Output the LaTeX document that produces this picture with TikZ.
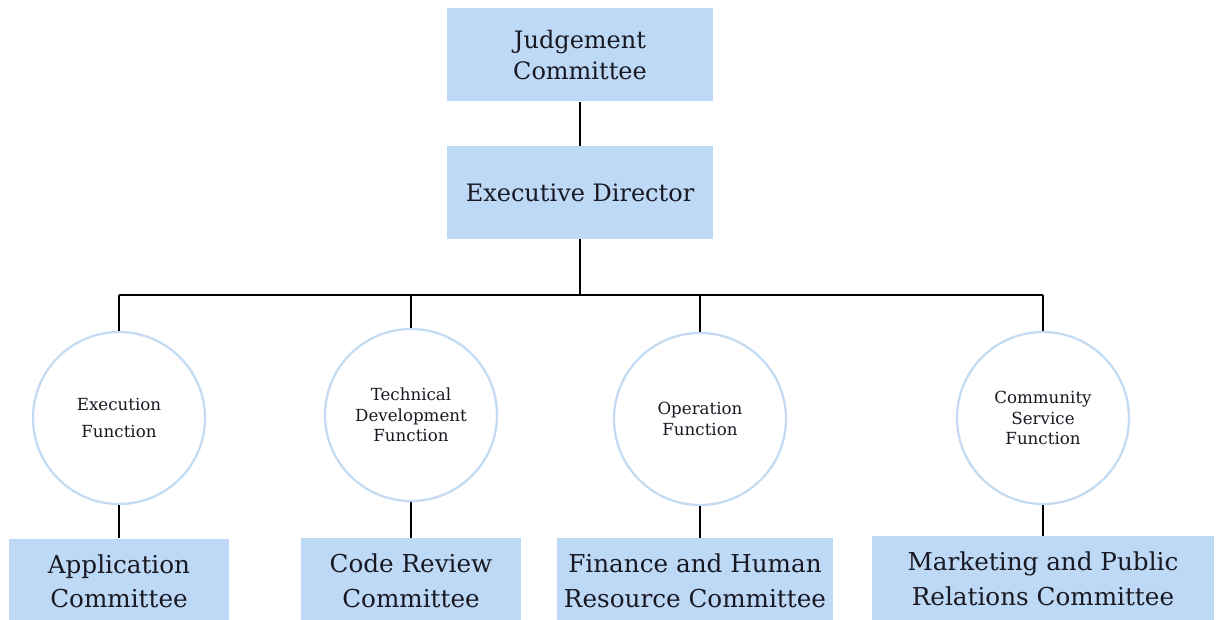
\documentclass[tikz,border=0pt]{standalone}
\usepackage{fontspec}
\setmainfont{DejaVu Serif}
\usepackage{xcolor}
\usetikzlibrary{positioning}

\definecolor{boxblue}{RGB}{189,217,245}
\definecolor{ringblue}{RGB}{196,219,241}
\definecolor{inkdark}{RGB}{25,25,35}

\begin{document}
\begin{tikzpicture}[
    x=0.75pt, y=-0.75pt,
    node distance=33pt,
    office/.style={rectangle, fill=boxblue, draw=none, minimum height=69.75pt, align=center, text=inkdark, font=\fontsize{18}{23.5}\selectfont},
    committee/.style={rectangle, fill=boxblue, draw=none, minimum height=64pt, align=center, text=inkdark, font=\fontsize{18.5}{26}\selectfont},
    branch/.style={circle, draw=ringblue, line width=1.7pt, fill=white, minimum size=129pt, inner sep=0pt, align=center, text=inkdark, font=\fontsize{12.5}{15.5}\selectfont},
    link/.style={line width=2pt, black}
]
\clip (0,0) rectangle (1216,620);
\fill[white] (0,0) rectangle (1216,620);

% Top offices
\node[office, minimum width=199.5pt] (judge) at (580,55) {Judgement\\Committee};
\node[office, minimum width=199.5pt, below=33pt of judge] (director) {Executive Director};

% Functions
\node[branch] (exec) at (119,418) {Execution\\[5pt]Function};
\node[branch] (tech) at (411,415) {Technical\\Development\\Function};
\node[branch] (oper) at (700,419) {Operation\\Function};
\node[branch] (comm) at (1043,418) {Community\\Service\\Function};

% Committees
\node[committee, minimum width=165pt, below=25pt of exec] (app) {Application\\Committee};
\node[committee, minimum width=165pt, below=27pt of tech] (code) {Code Review\\Committee};
\node[committee, minimum width=207pt, below=24pt of oper, xshift=-3.75pt] (fin) {Finance and Human\\Resource Committee};
\node[committee, minimum width=257pt, below=23pt of comm] (mkt) {Marketing and Public\\Relations Committee};

% Connectors
\coordinate (bus) at (580,295);
\draw[link] (judge) -- (director);
\draw[link] (director) -- (bus);
\draw[link] (exec.north |- bus) -- (comm.north |- bus);
\foreach \f in {exec, tech, oper, comm}
    \draw[link] (\f.north |- bus) -- (\f.north);
\draw[link] (exec) -- (app);
\draw[link] (tech) -- (code);
\draw[link] (oper.south) -- (oper.south |- fin.north);
\draw[link] (comm) -- (mkt);

\end{tikzpicture}
\end{document}
